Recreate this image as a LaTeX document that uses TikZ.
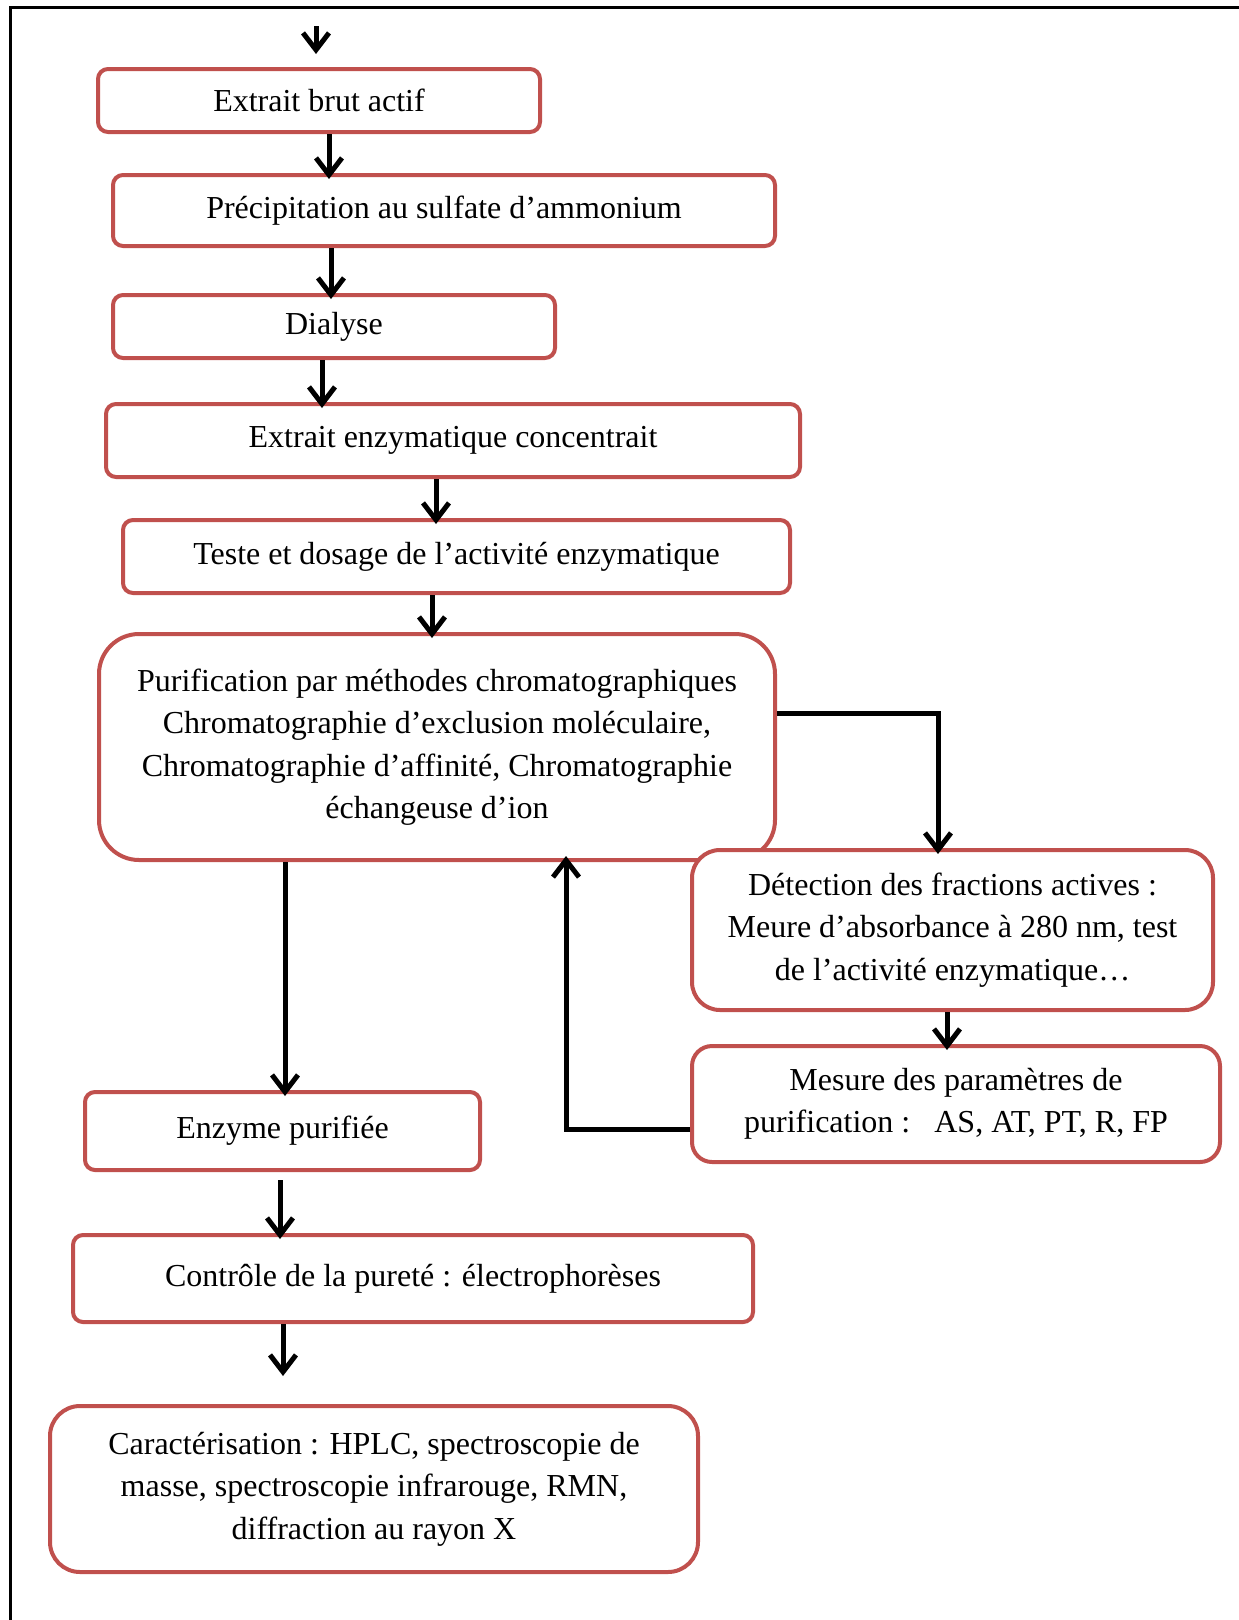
\documentclass[tikz,border=0pt]{standalone}
\usepackage{fontspec}
\setmainfont{Liberation Serif}
\usepackage{tikz}
\usetikzlibrary{arrows.meta,calc,positioning}
\definecolor{AccentRed}{RGB}{192,80,77}

\begin{document}
\begin{tikzpicture}[x=1pt,y=1pt,
    etape/.style={draw=AccentRed,fill=white,line width=4pt,rounded corners=10pt,
      align=center,inner sep=0pt,font=\fontsize{32}{42.4}\selectfont},
    fleche/.style={line width=5pt,shorten >=-6pt,-{Straight Barb[length=17pt,width=26pt]}}]
  \useasboundingbox (0,0) rectangle (1239,-1620);
  \draw[line width=3pt] (10,-1620) |- (1239,-7);

  \node[etape,minimum width=442,minimum height=63] (brut) at (319,-100.5) {Extrait brut actif};
  \node[etape,minimum width=662,minimum height=71] (precip) at (444,-210.5) {Précipitation au sulfate d’ammonium};
  \node[etape,minimum width=442,minimum height=63] (dialyse) at (334,-326.5) {Dialyse};
  \node[etape,minimum width=694,minimum height=73] (concentre) at (453,-440.5) {Extrait enzymatique concentrait};
  \node[etape,minimum width=667,minimum height=73] (dosage) at (456.5,-556.5) {Teste et dosage de l’activité enzymatique};
  \node[etape,minimum width=676,minimum height=226,rounded corners=40pt] (purif) at (437,-747)
    {Purification par méthodes chromatographiques\\ Chromatographie d’exclusion moléculaire,\\
     Chromatographie d’affinité, Chromatographie\\ échangeuse d’ion};
  \node[etape,minimum width=521,minimum height=160,rounded corners=28pt] (detection) at (952.5,-930)
    {Détection des fractions actives :\\ Meure d’absorbance à 280 nm, test\\ de l’activité enzymatique…};
  \node[etape,minimum width=528,minimum height=116,rounded corners=20pt] (mesure) at (956,-1104)
    {Mesure des paramètres de\\ purification :\ \ \ AS, AT, PT, R, FP};
  \node[etape,minimum width=395,minimum height=78] (enzyme) at (282.5,-1131) {Enzyme purifiée};
  \node[etape,minimum width=680,minimum height=87] (controle) at (413,-1278.5) {Contrôle de la pureté : électrophorèses};
  \node[etape,minimum width=648,minimum height=166,rounded corners=30pt] (caract) at (374,-1489)
    {Caractérisation : HPLC, spectroscopie de\\ masse, spectroscopie infrarouge, RMN,\\ diffraction au rayon X};

  \coordinate (entree) at (316,-26);
  \coordinate (entreefin) at (316,-48);
  \coordinate (suite) at (283,-1370);

  \draw[fleche] (entree) -- (entreefin);
  \draw[fleche] ([xshift=10]brut.south) -- ([xshift=10]brut.south |- precip.north);
  \draw[fleche] ([xshift=-113]precip.south) -- ([xshift=-113]precip.south |- dialyse.north);
  \draw[fleche] ([xshift=-12]dialyse.south) -- ([xshift=-12]dialyse.south |- concentre.north);
  \draw[fleche] ([xshift=-17]concentre.south) -- ([xshift=-17]concentre.south |- dosage.north);
  \draw[fleche] ([xshift=-24.5]dosage.south) -- ([xshift=-24.5]dosage.south |- purif.north);
  \draw[fleche] ([yshift=34]purif.east) -| ([xshift=-14.5]detection.north);
  \draw[fleche] ([xshift=-5.5]detection.south) -- ([xshift=-5.5]detection.south |- mesure.north);
  \draw[fleche] ([yshift=-25]mesure.west) -| ([xshift=129]purif.south);
  \draw[fleche] ([xshift=-152]purif.south) -- ([xshift=-152]purif.south |- enzyme.north);
  \draw[fleche,shorten <=8pt] ([xshift=-2.5]enzyme.south) -- ([xshift=-2.5]enzyme.south |- controle.north);
  \draw[fleche] (controle.south -| suite) -- (suite);
\end{tikzpicture}
\end{document}
